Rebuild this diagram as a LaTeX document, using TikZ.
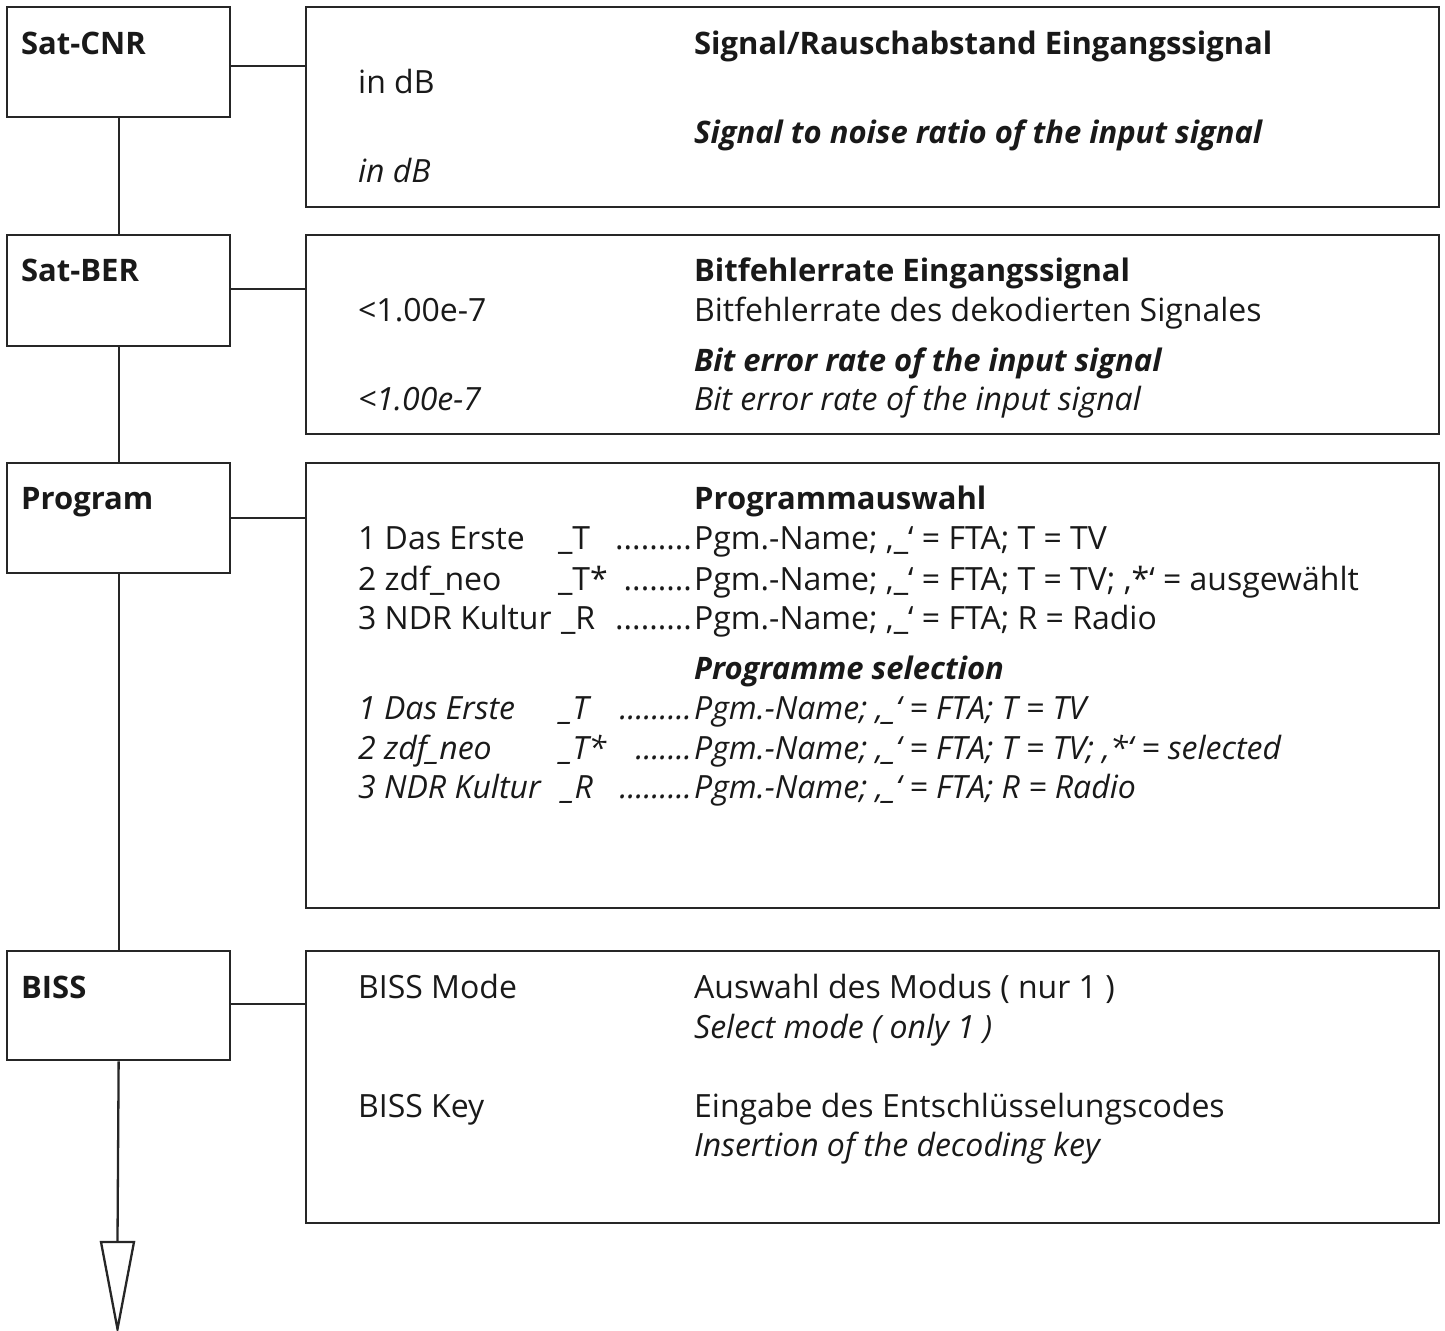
\documentclass[tikz,border=0pt]{standalone}
\usepackage{fontspec}
\setmainfont{Open Sans}
\newcommand{\rg}{\fontsize{16}{19}\selectfont}
\newcommand{\bd}{\fontsize{15.5}{19}\selectfont\bfseries}
\begin{document}
\begin{tikzpicture}[x=0.5pt,y=-0.5pt,line width=1.15pt,
  box/.style={draw=black!85,inner sep=0pt,anchor=north west},
  lbox/.style={box,minimum width=111.5pt},
  rbox/.style={box,minimum width=566.5pt},
  txt/.style={inner sep=0pt,anchor=base west,font=\rg,text=black!90},
  btxt/.style={txt,font=\bd},
  bitxt/.style={txt,font=\bd\itshape},
  itxt/.style={txt,font=\rg\itshape},
  dots/.style={txt,anchor=base east},
  idots/.style={itxt,anchor=base east},
  conn/.style={draw=black!85}]
\useasboundingbox (0,0) rectangle (1445,1331);
% left boxes
\node[lbox,minimum height=55pt] (lA) at (6,6) {};
\node[lbox,minimum height=55.5pt] (lB) at (6,234) {};
\node[lbox,minimum height=55pt] (lC) at (6,462) {};
\node[lbox,minimum height=54.5pt] (lD) at (6,950) {};
% right boxes
\node[rbox,minimum height=100pt] (rA) at (305,6) {};
\node[rbox,minimum height=99.5pt] (rB) at (305,234) {};
\node[rbox,minimum height=222.5pt] (rC) at (305,462) {};
\node[rbox,minimum height=136pt] (rD) at (305,950) {};
% connector levels
\coordinate (yA) at (0,65.7);
\coordinate (yB) at (0,289);
\coordinate (yC) at (0,518.3);
\coordinate (yD) at (0,1004);
\draw[conn] (lA.east |- yA) -- (rA.west |- yA);
\draw[conn] (lB.east |- yB) -- (rB.west |- yB);
\draw[conn] (lC.east |- yC) -- (rC.west |- yC);
\draw[conn] (lD.east |- yD) -- (rD.west |- yD);
\draw[conn] (lA.south) -- (lB.north);
\draw[conn] (lB.south) -- (lC.north);
\draw[conn] (lC.south) -- (lD.north);
\coordinate (aTop) at (117.5,1242);
\coordinate (aL) at (101,1242);
\coordinate (aR) at (134,1242);
\coordinate (aTip) at (117.5,1329);
\draw[conn] (lD.south) -- (aTop);
\draw[conn,fill=white] (aL) -- (aR) -- (aTip) -- cycle;
% left labels
\node[btxt] (nA) at (20,55) {Sat-CNR};
\node[btxt] (nB) at (20,282) {Sat-BER};
\node[btxt] (nC) at (20,510) {Program};
\node[btxt] (nD) at (20,998) {BISS};
% box A
\node[btxt] (a1) at (693,55) {Signal/Rauschabstand Eingangssignal};
\node[txt] (a2) at (357,94) {in dB};
\node[bitxt] (a3) at (693,144) {Signal to noise ratio of the input signal};
\node[itxt] (a4) at (357,183) {in dB};
% box B
\node[btxt] (b1) at (693,282) {Bitfehlerrate Eingangssignal};
\node[txt] (b2) at (357,322) {<1.00e-7};
\node[txt] (b3) at (693,322) {Bitfehlerrate des dekodierten Signales};
\node[bitxt] (b4) at (693,372) {Bit error rate of the input signal};
\node[itxt] (b5) at (357,411) {<1.00e-7};
\node[itxt] (b6) at (693,411) {Bit error rate of the input signal};
% box C
\node[btxt] (c0) at (693,510) {Programmauswahl};
\node[txt] (c1a) at (357,550) {1 Das Erste};
\node[txt] (c1b) at (557,550) {\_T};
\node[dots] (c1c) at (693,550) {.........};
\node[txt] (c1d) at (693,550) {Pgm.-Name; ‚\_‘ = FTA; T = TV};
\node[txt] (c2a) at (357,590) {2 zdf\_neo};
\node[txt] (c2b) at (557,590) {\_T*};
\node[dots] (c2c) at (693,590) {........};
\node[txt] (c2d) at (693,590) {Pgm.-Name; ‚\_‘ = FTA; T = TV; ‚*‘ = ausgewählt};
\node[txt] (c3a) at (357,629) {3 NDR Kultur};
\node[txt] (c3b) at (560,629) {\_R};
\node[dots] (c3c) at (693,629) {.........};
\node[txt] (c3d) at (693,629) {Pgm.-Name; ‚\_‘ = FTA; R = Radio};
\node[bitxt] (c4) at (693,679) {Programme selection};
\node[itxt] (c5a) at (357,719) {1 Das Erste};
\node[itxt] (c5b) at (559,719) {\_T};
\node[idots] (c5c) at (693,719) {.........};
\node[itxt] (c5d) at (693,719) {Pgm.-Name; ‚\_‘ = FTA; T = TV};
\node[itxt] (c6a) at (357,759) {2 zdf\_neo};
\node[itxt] (c6b) at (559,759) {\_T*};
\node[idots] (c6c) at (693,759) {.......};
\node[itxt] (c6d) at (693,759) {Pgm.-Name; ‚\_‘ = FTA; T = TV; ‚*‘ = selected};
\node[itxt] (c7a) at (357,798) {3 NDR Kultur};
\node[itxt] (c7b) at (561,798) {\_R};
\node[idots] (c7c) at (693,798) {.........};
\node[itxt] (c7d) at (693,798) {Pgm.-Name; ‚\_‘ = FTA; R = Radio};
% box D
\node[txt] (d1) at (357,998) {BISS Mode};
\node[txt] (d2) at (693,998) {Auswahl des Modus ( nur 1 )};
\node[itxt] (d3) at (693,1038) {Select mode ( only 1 )};
\node[txt] (d4) at (357,1117) {BISS Key};
\node[txt] (d5) at (693,1117) {Eingabe des Entschlüsselungscodes};
\node[itxt] (d6) at (693,1156) {Insertion of the decoding key};
\end{tikzpicture}
\end{document}
